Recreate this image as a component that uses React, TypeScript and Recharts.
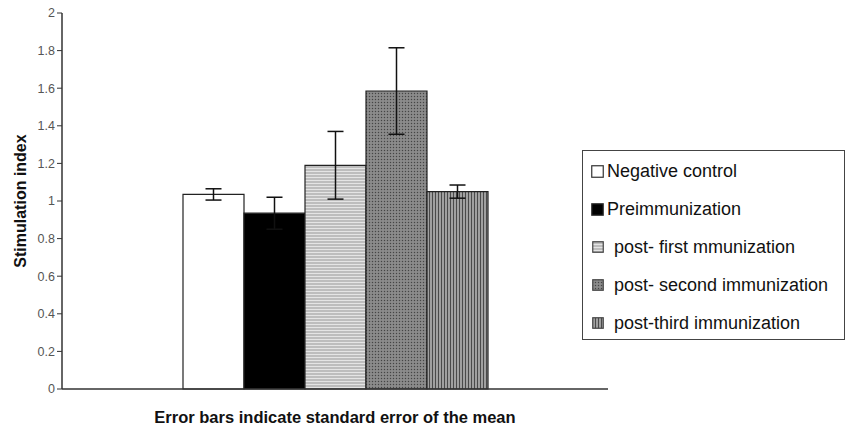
import { BarChart, Bar, XAxis, YAxis, ErrorBar } from 'recharts';

const SERIES = ['neg', 'pre', 'first', 'second', 'third'];
const SERIES_NAMES = [
  'Negative control',
  'Preimmunization',
  'post- first mmunization',
  'post- second immunization',
  'post-third immunization',
];
const MEANS = [1.035, 0.935, 1.19, 1.585, 1.05];
const ERRORS = [0.03, 0.085, 0.18, 0.23, 0.035];
const Y_TICKS = [0, 0.2, 0.4, 0.6, 0.8, 1, 1.2, 1.4, 1.6, 1.8, 2];

const FILLS = ['#ffffff', '#000000', 'url(#hlines)', 'url(#dots)', 'url(#vlines)'];
const PAT = ['', '', 'hlines', 'dots', 'vlines'];
const FONT = '"Liberation Sans", Arial, sans-serif';

const row: Record<string, any> = { name: '' };
SERIES.forEach((k, i) => {
  row[k] = MEANS[i];
  row[k + 'Err'] = ERRORS[i];
});
const data = [row];

const Patterns = ({ p = '' }: { p?: string }) => (
  <defs>
    <pattern id={p + 'hlines'} width="4" height="3" patternUnits="userSpaceOnUse">
      <rect width="4" height="3" fill="#bdbdbd" />
      <rect y="0" width="4" height="1" fill="#e4e4e4" />
    </pattern>
    <pattern id={p + 'dots'} width="3" height="3" patternUnits="userSpaceOnUse">
      <rect width="3" height="3" fill="#828282" />
      <rect x="0" y="0" width="1" height="1" fill="#454545" />
      <rect x="1.5" y="1.5" width="1" height="1" fill="#a8a8a8" />
    </pattern>
    <pattern id={p + 'vlines'} width="3" height="4" patternUnits="userSpaceOnUse">
      <rect width="3" height="4" fill="#a0a0a0" />
      <rect x="0" width="1" height="4" fill="#4a4a4a" />
    </pattern>
  </defs>
);

const fmt = (v: number) => String(Number(v.toFixed(1)));

export default function App() {
  return (
    <div style={{ position: 'absolute', left: 0, top: 0, width: 850, height: 429, background: '#fff', fontFamily: FONT }}>
      <BarChart
        width={850}
        height={429}
        data={data}
        margin={{ top: 13, right: 242, bottom: 0, left: 0 }}
        barCategoryGap={121}
        barGap={0}
      >
        <Patterns />
        <XAxis
          dataKey="name"
          height={40}
          tick={false}
          tickLine={false}
          axisLine={{ stroke: '#333', strokeWidth: 1.5 }}
          label={{ value: 'Error bars indicate standard error of the mean', position: 'insideBottom', offset: 6, style: { fontSize: 16.5, fontWeight: 700, fill: '#111', fontFamily: FONT } }}
        />
        <YAxis
          width={62}
          domain={[0, 2]}
          ticks={Y_TICKS}
          interval={0}
          tickFormatter={fmt}
          tickSize={5}
          tick={{ fontSize: 12.5, fill: '#555', fontFamily: FONT }}
          tickLine={{ stroke: '#333' }}
          axisLine={{ stroke: '#333', strokeWidth: 1.5 }}
          label={{ value: 'Stimulation index', angle: -90, position: 'insideLeft', offset: 20, style: { fontSize: 16, fontWeight: 700, fill: '#111', fontFamily: FONT, textAnchor: 'middle' } }}
        />
        {SERIES.map((k, i) => (
          <Bar
            key={k}
            dataKey={k}
            name={SERIES_NAMES[i]}
            fill={FILLS[i]}
            stroke="#222"
            strokeWidth={1.2}
            isAnimationActive={false}
          >
            <ErrorBar dataKey={k + 'Err'} width={8} stroke="#111" strokeWidth={1.5} direction="y" />
          </Bar>
        ))}
      </BarChart>

      <div
        style={{
          position: 'absolute',
          left: 582,
          top: 150,
          width: 263,
          height: 190,
          border: '1.5px solid #444',
          boxSizing: 'border-box',
          background: '#fff',
        }}
      >
        {SERIES_NAMES.map((n, i) => (
          <div
            key={n}
            style={{
              position: 'absolute',
              left: 8,
              top: 9 + i * 38,
              height: 22,
              display: 'flex',
              alignItems: 'center',
              fontSize: 18,
              color: '#111',
              whiteSpace: 'nowrap',
            }}
          >
            {i < 2 ? (
              <svg width={13} height={13} style={{ marginRight: 3 }}>
                <rect x={0.75} y={0.75} width={11.5} height={11.5} fill={FILLS[i]} stroke="#333" strokeWidth={1.2} />
              </svg>
            ) : (
              <svg width={12} height={12} style={{ marginLeft: 1, marginRight: 10 }}>
                <Patterns p={'lg' + i} />
                <rect x={0.75} y={0.75} width={10.5} height={10.5} fill={`url(#lg${i}${PAT[i]})`} stroke="#444" strokeWidth={1.2} />
              </svg>
            )}
            {n}
          </div>
        ))}
      </div>
    </div>
  );
}
